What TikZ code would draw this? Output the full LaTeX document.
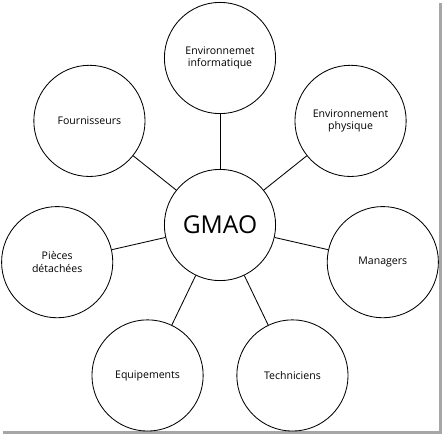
\documentclass[tikz,border=0pt]{standalone}
\usepackage{fontspec}
\setmainfont{Open Sans}
\usetikzlibrary{positioning}

\begin{document}
\begin{tikzpicture}[
    every node/.style={font=\fontsize{7.5}{9}\selectfont},
    actor/.style={draw, circle, line width=0.6pt, minimum size=2.78cm, inner sep=0pt, align=center},
    hub/.style={actor, font=\fontsize{17.5}{20}\selectfont},
    link/.style={line width=0.6pt},
    shadow/.style={fill=black!35, draw=none}
]
\useasboundingbox (-5.5,-5.225) rectangle (5.55,5.625);
\fill[shadow] (5.475,-5.225) rectangle (5.55,5.55);
\fill[shadow] (-5.425,-5.225) rectangle (5.55,-5.15);

\node[hub] (gmao) at (0,0) {GMAO};
\node[actor] (info) at (90:4.175) {Environnemet\\informatique};
\node[actor] (physique) at (38.57:4.175) {Environnement\\physique};
\node[actor] (managers) at (-12.86:4.175) {Managers};
\node[actor] (techniciens) at (-64.29:4.175) {Techniciens};
\node[actor] (equipements) at (-115.71:4.175) {Equipements};
\node[actor] (pieces) at (-167.14:4.175) {Pièces\\détachées};
\node[actor] (fournisseurs) at (141.43:4.175) {Fournisseurs};

\draw[link] (gmao) -- (info);
\draw[link] (gmao) -- (physique);
\draw[link] (gmao) -- (managers);
\draw[link] (gmao) -- (techniciens);
\draw[link] (gmao) -- (equipements);
\draw[link] (gmao) -- (pieces);
\draw[link] (gmao) -- (fournisseurs);
\end{tikzpicture}
\end{document}
